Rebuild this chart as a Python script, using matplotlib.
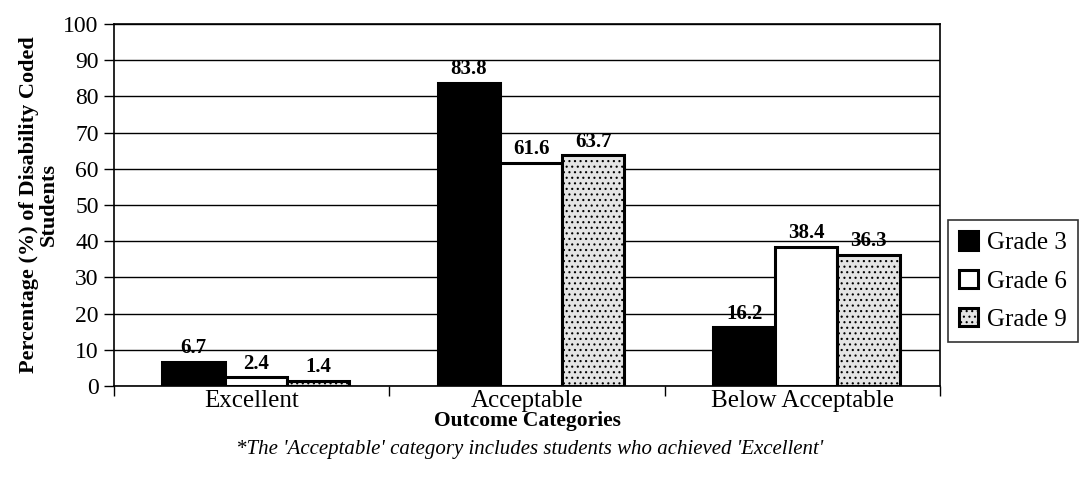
import matplotlib
matplotlib.use("Agg")
import matplotlib.pyplot as plt
import numpy as np

categories = ["Excellent", "Acceptable", "Below Acceptable"]
series_names = ["Grade 3", "Grade 6", "Grade 9"]
grade3 = [6.7, 83.8, 16.2]
grade6 = [2.4, 61.6, 38.4]
grade9 = [1.4, 63.7, 36.3]
yticks = list(range(0, 101, 10))

plt.rcParams['font.family'] = ['Liberation Serif', 'DejaVu Serif']
plt.rcParams['hatch.color'] = '#9a9a9a'
plt.rcParams['hatch.linewidth'] = 0.8

fig = plt.figure(figsize=(10.91, 4.88), dpi=100)
ax = fig.add_axes([0.1045, 0.209, 0.757, 0.742])

x = np.arange(len(categories))
w = 0.226
styles = [dict(facecolor='black', edgecolor='black'),
          dict(facecolor='white', edgecolor='black'),
          dict(facecolor='#e4e4e4', edgecolor='black', hatch='...')]
handles = []
for i, (vals, st) in enumerate(zip([grade3, grade6, grade9], styles)):
    bars = ax.bar(x + (i - 1) * w + 0.015, vals, w, linewidth=2.2, zorder=3,
                  label=series_names[i], **st)
    handles.append(bars)
    for b, v in zip(bars, vals):
        ax.text(b.get_x() + b.get_width() / 2, v + 1.0, f"{v:.1f}",
                ha='center', va='bottom', fontsize=15, fontweight='bold', zorder=4)

ax.set_xlim(-0.5, 2.5)
ax.set_ylim(0, 100)
ax.set_yticks(yticks)
ax.set_yticklabels([str(t) for t in yticks], fontsize=17)
ax.yaxis.grid(True, color='black', linewidth=1.0, zorder=0)
ax.set_axisbelow(True)
ax.tick_params(axis='y', direction='out', length=7, width=1, pad=4)

ax.set_xticks([-0.5, 0.5, 1.5, 2.5])
ax.set_xticklabels([])
ax.set_xticks(x, minor=True)
ax.set_xticklabels(categories, minor=True, fontsize=18)
ax.tick_params(axis='x', which='major', direction='out', length=7, width=1)
ax.tick_params(axis='x', which='minor', length=0, pad=3)

for s in ax.spines.values():
    s.set_linewidth(1.2)
    s.set_color('black')

ax.set_ylabel("Percentage (%) of Disability Coded\nStudents", fontsize=16,
              fontweight='bold', linespacing=1.0, labelpad=3)
ax.set_xlabel("Outcome Categories", fontsize=15.5, fontweight='bold')
ax.xaxis.set_label_coords(0.5, -0.07)

fig.text(0.485, 0.078, "*The 'Acceptable' category includes students who achieved 'Excellent'",
         ha='center', va='center', fontsize=15, style='italic')

leg = fig.legend(handles=handles, labels=series_names, loc='center left',
                 bbox_to_anchor=(0.869, 0.424), fontsize=18, frameon=True,
                 fancybox=False, edgecolor='black', handlelength=0.75,
                 handleheight=0.75, handletextpad=0.35, labelspacing=0.62,
                 borderpad=0.45, borderaxespad=0)
leg.get_frame().set_linewidth(1.2)

fig.savefig("out.png", dpi=100)
